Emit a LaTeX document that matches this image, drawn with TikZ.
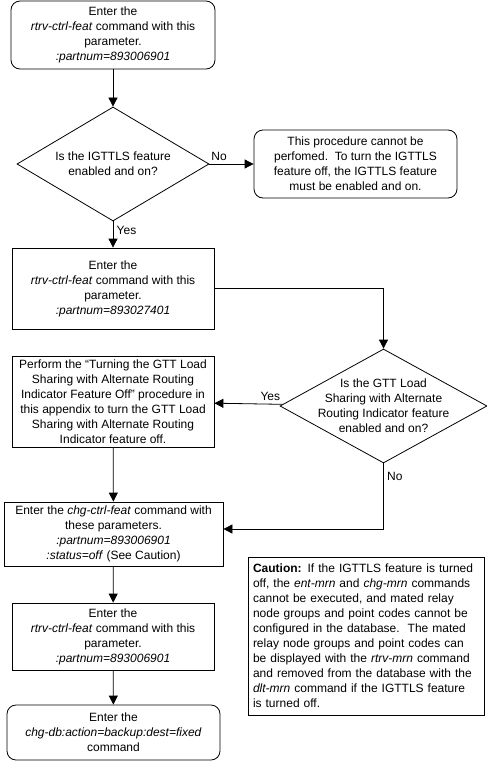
\documentclass[tikz,border=0pt]{standalone}
\usepackage{fontspec}
\setmainfont{Liberation Sans}
\usetikzlibrary{shapes.geometric,arrows.meta}

\begin{document}
\begin{tikzpicture}[x=1pt,y=-1pt,
    every node/.style={font=\fontsize{12}{15}\selectfont},
    box/.style={draw,line width=.8pt,align=center,inner sep=0pt},
    rbox/.style={box,rounded corners=9pt},
    decision/.style={draw,line width=.8pt,diamond,inner sep=0pt},
    flow/.style={line width=.8pt,-{Triangle[length=9pt,width=9pt]}}]
  \useasboundingbox (0,0) rectangle (487,771);

      \node (start) at (113,35) [rbox,minimum width=204pt,minimum height=68pt] {Enter the\\ \textit{rtrv-ctrl-feat} command with this\\ parameter.\\ \textit{:partnum=893006901}};
      \node (igttls) at (113,164) [decision,minimum width=192pt,minimum height=114pt,
        label={[align=center]center:Is the IGTTLS feature\\ enabled and on?}] {};
      \node (nogo) at (355.5,164) [rbox,minimum width=203pt,minimum height=68pt] {This procedure cannot be\\ perfomed.\ \ To turn the IGTTLS\\ feature off, the IGTTLS feature\\ must be enabled and on.};
      \node (rtrvB) at (113,288.5) [box,minimum width=202pt,minimum height=81pt] {Enter the\\ \textit{rtrv-ctrl-feat} command with this\\ parameter.\\ \textit{:partnum=893027401}};
      \node (gttlsari) at (383.5,406) [decision,minimum width=207pt,minimum height=114pt,
        label={[align=center]center:Is the GTT Load\\ Sharing with Alternate\\ Routing Indicator feature\\ enabled and on?}] {};
      \node (perform) at (113,401.5) [box,minimum width=202pt,minimum height=91pt] {Perform the \textquotedblleft Turning the GTT Load\\ Sharing with Alternate Routing\\ Indicator Feature Off\textquotedblright\ procedure in\\ this appendix to turn the GTT Load\\ Sharing with Alternate Routing\\ Indicator feature off.};
      \node (chgfeat) at (113.5,534) [box,minimum width=219pt,minimum height=64pt] {Enter the \textit{chg-ctrl-feat} command with\\ these parameters.\\ \textit{:partnum=893006901}\\ \textit{:status=off} (See Caution)};
      \node (rtrvC) at (113,636.5) [box,minimum width=202pt,minimum height=67pt] {Enter the\\ \textit{rtrv-ctrl-feat} command with this\\ parameter.\\ \textit{:partnum=893006901}};
      \node (backup) at (113.5,732.5) [rbox,minimum width=213pt,minimum height=55pt] {Enter the\\ \textit{chg-db:action=backup:dest=fixed}\\ command};
      \node (caution) at (366,636) [box,align=left,text width=226pt,inner sep=5pt,minimum height=158pt] {\textbf{Caution:} If the IGTTLS feature is turned\\ off, the \textit{ent-mrn} and \textit{chg-mrn} commands\\ cannot be executed, and mated relay\\ node groups and point codes cannot be\\ configured in the database.\ \ The mated\\ relay node groups and point codes can\\ be displayed with the \textit{rtrv-mrn} command\\ and removed from the database with the\\ \textit{dlt-mrn} command if the IGTTLS feature\\ is turned off.};

    \draw[flow] (start) -- (igttls);
    \draw[flow] (igttls) -- (nogo) node (noA) [pos=.22,above] {No};
    \draw[flow] (igttls) -- (rtrvB) node (yesA) [pos=.35,right] {Yes};
    \draw[flow] (rtrvB.east) -| (gttlsari.north);
    \draw[flow] (gttlsari) -- (perform) node (yesB) [pos=.18,above] {Yes};
    \draw[flow] (gttlsari.south) |- ([yshift=5pt]chgfeat.east) node (noB) [pos=.1,right] {No};
    \draw[flow] (perform) -- (chgfeat);
    \draw[flow] (chgfeat) -- (rtrvC);
    \draw[flow] (rtrvC) -- (backup);
  \end{tikzpicture}
\end{document}
